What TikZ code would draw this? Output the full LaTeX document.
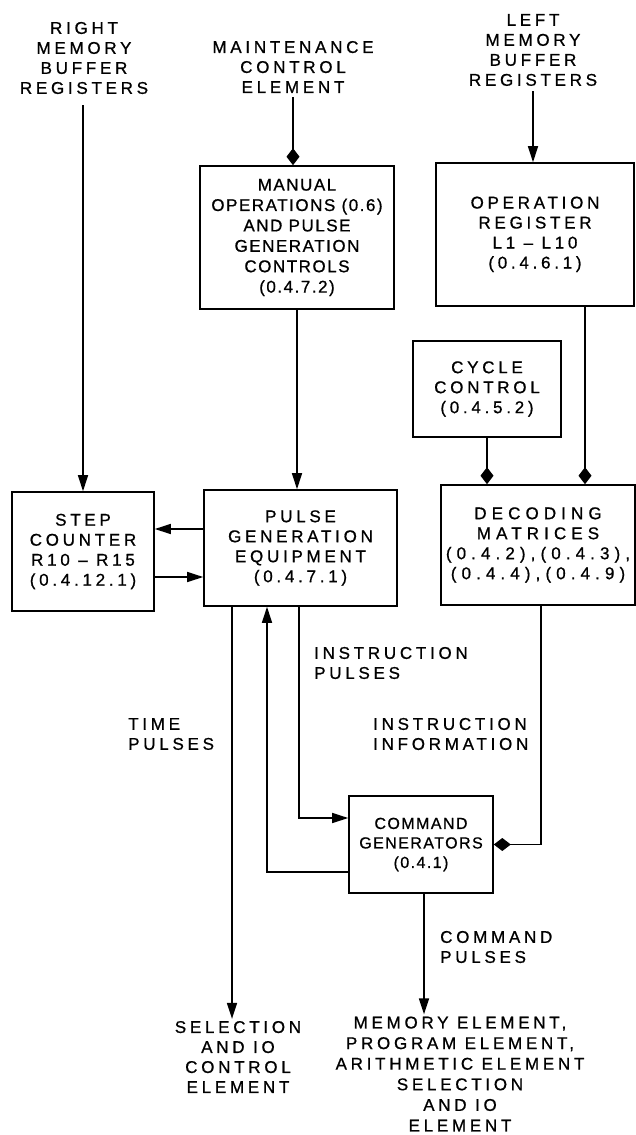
\documentclass[tikz,border=0pt]{standalone}
\usepackage{fontspec}
\usetikzlibrary{arrows.meta}
\newfontfamily\labfont{Liberation Sans}[LetterSpace=22,FakeBold=0.8]
\newfontfamily\labnarrow{Liberation Sans}[LetterSpace=9,FakeBold=0.8]
\newfontfamily\labwide{Liberation Sans}[LetterSpace=30,FakeBold=0.8]
\begin{document}
\begin{tikzpicture}[x=1pt,y=-1pt,
  lab/.style={align=center, inner sep=2pt, font=\labfont\fontsize{17}{20}\selectfont},
  box/.style={lab, draw, line width=1.6pt},
  line/.style={line width=1.5pt},
  arr/.style={line, -{Triangle[length=16pt,width=10pt]}},
  dia/.style={line, -{Diamond[length=17pt,width=13pt]}}]
\fill[white] (0,0) rectangle (636,1135);
\useasboundingbox (0,0) rectangle (636,1135);

% text labels
\node[lab] (rmb) at (84,58) {RIGHT\\MEMORY\\BUFFER\\REGISTERS};
\node[lab] (mce) at (293,67) {MAINTENANCE\\CONTROL\\ELEMENT};
\node[lab] (lmb) at (533,50) {LEFT\\MEMORY\\BUFFER\\REGISTERS};

% boxes
\node[box, font=\labnarrow\fontsize{17}{20.4}\selectfont, minimum width=194pt, minimum height=143pt] (manual) at (297,237.5)
  {MANUAL\\OPERATIONS (0.6)\\AND PULSE\\GENERATION\\CONTROLS\\(0.4.7.2)};
\node[box, minimum width=198pt, minimum height=143pt] (opreg) at (535,234.5)
  {\raisebox{-6pt}{\begin{tabular}{@{}c@{}}OPERATION\\REGISTER\\L1 – L10\\(0.4.6.1)\end{tabular}}};
\node[box, minimum width=148pt, minimum height=96pt] (cycle) at (487,389)
  {CYCLE\\CONTROL\\(0.4.5.2)};
\node[box, minimum width=142pt, minimum height=119pt] (step) at (83,551.5)
  {STEP\\COUNTER\\R10 – R15\\(0.4.12.1)};
\node[box, minimum width=193pt, minimum height=116pt] (pulse) at (300.5,548)
  {PULSE\\GENERATION\\EQUIPMENT\\(0.4.7.1)};
\node[box, font=\labwide\fontsize{17}{20}\selectfont, minimum width=194pt, minimum height=120pt] (dec) at (538,545)
  {DECODING\\MATRICES\\(0.4.2),(0.4.3),\\(0.4.4),(0.4.9)};
\node[box, font=\labnarrow\fontsize{16}{19.5}\selectfont, minimum width=144pt, minimum height=97pt] (cmd) at (421,844.5)
  {COMMAND\\GENERATORS\\(0.4.1)};

% connector labels
\node[lab, align=left, anchor=west] (ip) at (312,663) {INSTRUCTION\\PULSES};
\node[lab, align=left, anchor=west] (ii) at (371,734) {INSTRUCTION\\INFORMATION};
\node[lab, align=left, anchor=west] (tp) at (126,734) {TIME\\PULSES};
\node[lab, align=left, anchor=west] (cp) at (438,947) {COMMAND\\PULSES};

% destination labels
\node[lab] (sel) at (238,1057) {SELECTION\\AND IO\\CONTROL\\ELEMENT};
\node[lab, font=\labfont\fontsize{17}{20.6}\selectfont] (mem) at (460,1074)
  {MEMORY ELEMENT,\\PROGRAM ELEMENT,\\ARITHMETIC ELEMENT\\SELECTION\\AND IO\\ELEMENT};

% connectors
\draw[arr, shorten <=9pt] (rmb.south -| step.north) -- (step.north);
\draw[dia, shorten <=2pt] (mce.south) -- (mce.south |- manual.north);
\draw[arr] (manual.south) -- (manual.south |- pulse.north);
\draw[arr, shorten <=3pt] (lmb.south) -- (lmb.south |- opreg.north);
\draw[dia] ([xshift=50pt]opreg.south) -- ([xshift=50pt]opreg.south |- dec.north);
\draw[dia] (cycle.south) -- (cycle.south |- dec.north);
\draw[arr] ([yshift=19pt]pulse.west) -- ([yshift=19pt]pulse.west -| step.east);
\draw[arr] ([yshift=-25.5pt]step.east) -- ([yshift=-25.5pt]step.east -| pulse.west);
\draw[arr] ([xshift=-1.5pt]pulse.south) |- ([yshift=26.5pt]cmd.west);
\draw[arr] ([yshift=-27.5pt]cmd.west) -| ([xshift=-33.5pt]pulse.south);
\draw[arr] ([xshift=-68.5pt]pulse.south) -- ([xshift=-68.5pt]pulse.south |- sel.north);
\draw[arr] ([xshift=3pt]cmd.south) -- ([xshift=3pt]cmd.south |- mem.north);
\draw[dia] ([xshift=3pt]dec.south) |- (cmd.east);
\end{tikzpicture}
\end{document}
